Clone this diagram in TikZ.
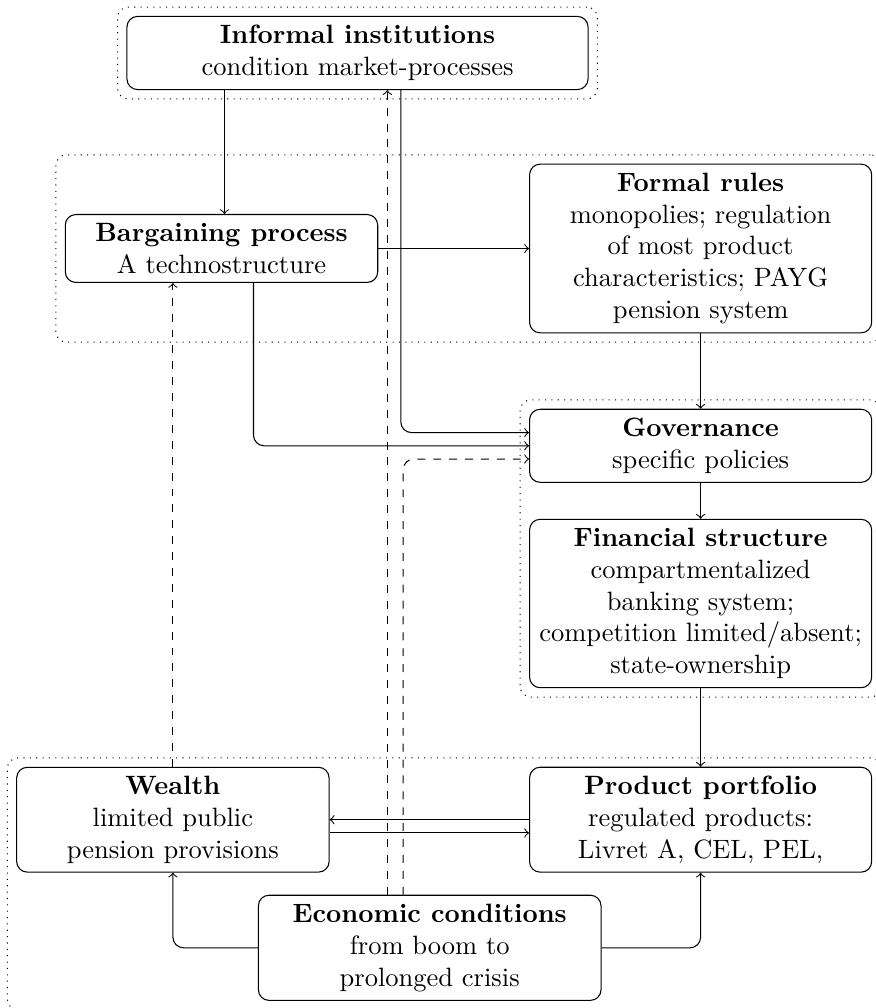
\documentclass[tikz,border=0pt]{standalone}
\usetikzlibrary{fit}
\begin{document}
\begin{tikzpicture}[x=0.37736pt,y=-0.37736pt,
  box/.style={draw, rounded corners, align=center, inner sep=0.3333em},
  wide/.style={box, minimum width=129.1pt},
  narrow/.style={box, minimum width=117.9pt},
  group/.style={draw, dotted, rounded corners, inner sep=0.3333em},
  link/.style={->, rounded corners},
  feed/.style={->, dashed, rounded corners}]
\useasboundingbox (0,0) rectangle (875,1008);

% institutional blocks
\node[box, minimum width=174pt] (inf) at (357.5,53)
  {\textbf{Informal institutions}\\condition market-processes};
\node[narrow] (barg) at (221.5,248.5)
  {\textbf{Bargaining process}\\A technostructure};
\node[wide] (formal) at (700.6,248.5)
  {\textbf{Formal rules}\\monopolies; regulation\\of most product\\characteristics; PAYG\\pension system};
\node[wide] (gov) at (700.6,445.8)
  {\textbf{Governance}\\specific policies};
\node[wide] (fin) at (700.6,603.5)
  {\textbf{Financial structure}\\compartmentalized\\banking system;\\competition limited/absent;\\state-ownership};
\node[wide] (prod) at (700.6,819.7)
  {\textbf{Product portfolio}\\regulated products:\\Livret A, CEL, PEL,};
\node[narrow] (wealth) at (172.9,819.7)
  {\textbf{Wealth}\\limited public\\pension provisions};
\node[box, minimum width=129.3pt] (econ) at (429.7,947.8)
  {\textbf{Economic conditions}\\from boom to\\prolonged crisis};

% grouping frames
\node[group, fit=(inf)] (g1) {};
\node[group, fit=(barg)(formal)] (g2) {};
\node[group, fit=(gov)(fin)] (g3) {};
\node[group, fit=(wealth)(prod)(econ)] (g4) {};

% vertical tracks of the connectors
\coordinate (xIB) at (224.5,0);
\coordinate (xIG) at (400.8,0);
\coordinate (xBG) at (253.5,0);
\coordinate (xEI) at (387.3,0);
\coordinate (xEG) at (403.2,0);

% solid links
\draw[link] (inf.south -| xIB) -- (barg.north -| xIB);
\draw[link] (barg.east) -- (formal.west);
\draw[link] (formal.south) -- (gov.north);
\draw[link] (gov.south) -- (fin.north);
\draw[link] (fin.south) -- (prod.north);
\draw[link] (inf.south -| xIG) |- ([yshift=5pt]gov.west);
\draw[link] (barg.south -| xBG) |- (gov.west);
\draw[link] (prod.west) -- (wealth.east);
\draw[link] ([yshift=-5pt]wealth.east) -- ([yshift=-5pt]prod.west);
\draw[link] (econ.west) -| (wealth.south);
\draw[link] (econ.east) -| (prod.south);

% dashed feedbacks
\draw[feed] (econ.north -| xEI) -- (inf.south -| xEI);
\draw[feed] (econ.north -| xEG) |- ([yshift=-5pt]gov.west);
\draw[feed] (wealth.north) -- (barg.south -| wealth.north);
\end{tikzpicture}
\end{document}
